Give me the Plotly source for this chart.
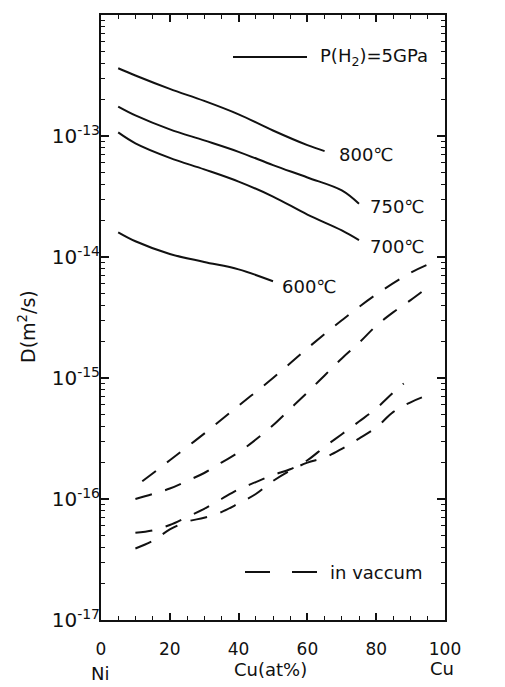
import plotly.graph_objects as go

# ---- data ----
x_800 = [5, 10, 20, 30, 40, 50, 60, 65]
y_800 = [3.63e-13, 3.16e-13, 2.45e-13, 1.95e-13, 1.51e-13, 1.11e-13, 8.4e-14, 7.5e-14]

x_750 = [5, 10, 20, 30, 40, 50, 60, 70, 75]
y_750 = [1.75e-13, 1.48e-13, 1.135e-13, 9.2e-14, 7.4e-14, 5.75e-14, 4.54e-14, 3.55e-14, 2.75e-14]

x_700 = [5, 10, 20, 30, 40, 50, 60, 70, 75]
y_700 = [1.07e-13, 8.7e-14, 6.6e-14, 5.3e-14, 4.2e-14, 3.16e-14, 2.24e-14, 1.66e-14, 1.38e-14]

x_600 = [5, 10, 20, 30, 40, 50]
y_600 = [1.6e-14, 1.35e-14, 1.06e-14, 9.1e-15, 7.9e-15, 6.3e-15]

x_906 = [12, 20, 30, 40, 50, 60, 70, 80, 90, 96]
y_906 = [1.4e-16, 2.09e-16, 3.47e-16, 5.9e-16, 1.0e-15, 1.76e-15, 3.0e-15, 4.9e-15, 7.4e-15, 8.9e-15]

x_866 = [10, 15, 20, 25, 30, 35, 40, 45, 50, 55, 60, 65, 70, 75, 80, 85, 90, 96]
y_866 = [1.0e-16, 1.1e-16, 1.22e-16, 1.41e-16, 1.64e-16, 2.0e-16, 2.43e-16, 3.1e-16, 4.07e-16,
         5.56e-16, 7.6e-16, 1.05e-15, 1.45e-15, 1.95e-15, 2.7e-15, 3.5e-15, 4.4e-15, 5.9e-15]

x_806 = [10, 15, 20, 25, 30, 35, 40, 45, 50, 55, 60, 65, 70, 75, 80, 85, 88]
y_806 = [5.25e-17, 5.5e-17, 6.1e-17, 7.1e-17, 8.3e-17, 1.0e-16, 1.2e-16, 1.38e-16, 1.58e-16,
         1.76e-16, 2.09e-16, 2.7e-16, 3.43e-16, 4.37e-16, 5.6e-16, 7.6e-16, 9.0e-16]

x_765 = [10, 15, 20, 25, 30, 35, 40, 45, 50, 55, 60, 65, 70, 75, 80, 85, 90, 96]
y_765 = [3.9e-17, 4.5e-17, 5.6e-17, 6.5e-17, 7.0e-17, 7.8e-17, 9.2e-17, 1.1e-16, 1.41e-16,
         1.72e-16, 2.0e-16, 2.2e-16, 2.6e-16, 3.16e-16, 3.9e-16, 5.25e-16, 6.3e-16, 7.4e-16]

x_ticks = [0, 20, 40, 60, 80, 100]
x_ticklabels = ["0", "20", "40", "60", "80", "100"]
y_ticks = [1e-17, 1e-16, 1e-15, 1e-14, 1e-13]
y_ticklabels = ["10<sup>-17</sup>", "10<sup>-16</sup>", "10<sup>-15</sup>", "10<sup>-14</sup>", "10<sup>-13</sup>"]

# label positions (x in at%, y as log10 value)
solid_labels = [("800℃", 68.6, -13.15), ("750℃", 77.6, -13.58), ("700℃", 77.6, -13.91), ("600℃", 52.0, -14.24)]
dash_labels = [("906℃", 100.9, -14.025), ("866℃", 100.9, -14.30), ("806℃", 101.2, -14.87), ("765℃", 101.2, -15.18)]

FONT = "DejaVu Sans"
BLACK = "#111111"

W, H = 505, 687
L, R, T, B = 101, 60, 15, 67
pw, ph = W - L - R, H - T - B


def px(xp):
    return (xp - L) / pw


def py(yp):
    return (H - B - yp) / ph


fig = go.Figure()
for xs, ys in [(x_800, y_800), (x_750, y_750), (x_700, y_700), (x_600, y_600)]:
    fig.add_trace(go.Scatter(x=xs, y=ys, mode="lines", line=dict(color=BLACK, width=2, shape="spline"),
                             showlegend=False, hoverinfo="skip"))
for xs, ys in [(x_906, y_906), (x_866, y_866), (x_806, y_806), (x_765, y_765)]:
    fig.add_trace(go.Scatter(x=xs, y=ys, mode="lines",
                             line=dict(color=BLACK, width=2, dash="17px,14px", shape="spline"),
                             showlegend=False, hoverinfo="skip"))

annotations = []
for txt, xv, yv in solid_labels + dash_labels:
    annotations.append(dict(x=xv, y=yv, xref="x", yref="y", text=txt, showarrow=False,
                            xanchor="left", yanchor="middle", font=dict(family=FONT, size=18, color=BLACK)))

# legend texts
annotations.append(dict(x=px(318), y=py(57), xref="paper", yref="paper", text="P(H<sub>2</sub>)=5GPa",
                        showarrow=False, xanchor="left", yanchor="middle",
                        font=dict(family=FONT, size=18, color=BLACK)))
annotations.append(dict(x=px(328), y=py(572), xref="paper", yref="paper", text="in vaccum",
                        showarrow=False, xanchor="left", yanchor="middle",
                        font=dict(family=FONT, size=18, color=BLACK)))
# axis titles and end labels
annotations.append(dict(x=px(27), y=py(327), xref="paper", yref="paper", text="D(m<sup>2</sup>/s)",
                        showarrow=False, textangle=-90, xanchor="center", yanchor="middle",
                        font=dict(family=FONT, size=19, color=BLACK)))
annotations.append(dict(x=px(270), y=py(669), xref="paper", yref="paper", text="Cu(at%)", showarrow=False,
                        xanchor="center", yanchor="middle", font=dict(family=FONT, size=18, color=BLACK)))
annotations.append(dict(x=px(100), y=py(673), xref="paper", yref="paper", text="Ni", showarrow=False,
                        xanchor="center", yanchor="middle", font=dict(family=FONT, size=18, color=BLACK)))
annotations.append(dict(x=px(442), y=py(668), xref="paper", yref="paper", text="Cu", showarrow=False,
                        xanchor="center", yanchor="middle", font=dict(family=FONT, size=18, color=BLACK)))

shapes = [
    dict(type="line", xref="paper", yref="paper", x0=px(233), x1=px(307), y0=py(57), y1=py(57),
         line=dict(color=BLACK, width=2)),
    dict(type="line", xref="paper", yref="paper", x0=px(245), x1=px(317), y0=py(572), y1=py(572),
         line=dict(color=BLACK, width=2, dash="25px,22px")),
]

fig.update_layout(
    width=W, height=H,
    margin=dict(l=L, r=R, t=T, b=B, pad=0),
    paper_bgcolor="white", plot_bgcolor="white",
    annotations=annotations, shapes=shapes,
    font=dict(family=FONT, color=BLACK),
)
fig.update_xaxes(range=[0, 100], tickvals=x_ticks, ticktext=x_ticklabels,
                 ticks="inside", ticklen=7, tickwidth=1.5, tickcolor=BLACK,
                 showline=True, linewidth=2, linecolor=BLACK, mirror="ticks",
                 showgrid=False, zeroline=False, ticklabelstandoff=13,
                 tickfont=dict(family=FONT, size=17, color=BLACK),
                 minor=dict(ticks="inside", ticklen=4, tickwidth=1.2, tickcolor=BLACK, dtick=5, showgrid=False))
fig.update_yaxes(type="log", range=[-17, -12], tickvals=y_ticks, ticktext=y_ticklabels,
                 ticks="inside", ticklen=8, tickwidth=1.5, tickcolor=BLACK,
                 showline=True, linewidth=2, linecolor=BLACK, mirror="ticks",
                 showgrid=False, zeroline=False, ticklabelstandoff=-5,
                 tickfont=dict(family=FONT, size=20, color=BLACK),
                 minor=dict(ticks="inside", ticklen=4, tickwidth=1.2, tickcolor=BLACK, dtick="D1", showgrid=False))

fig.write_html("out.html")
